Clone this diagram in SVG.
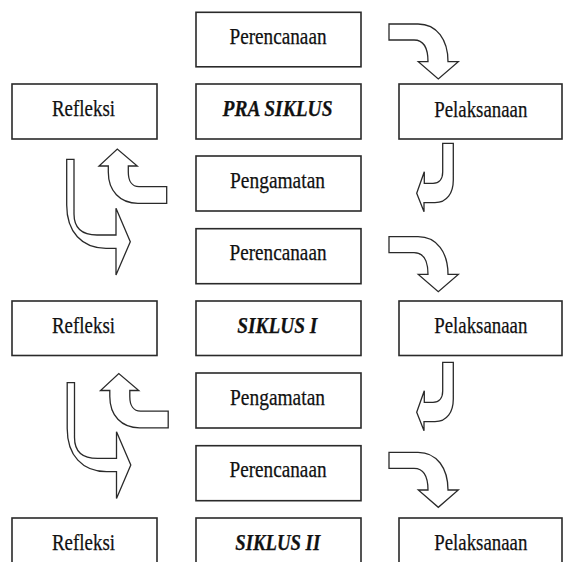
<svg xmlns="http://www.w3.org/2000/svg" width="563" height="562" viewBox="0 0 563 562">
<style>
.box{fill:#fff;stroke:#2a2a2a;stroke-width:1.6}
.lbl{font-family:"Liberation Serif","Times New Roman",serif;font-size:23px;fill:#111;text-anchor:middle;stroke:#111;stroke-width:0.25}
.cyc{font-weight:bold;font-style:italic}
.arr{fill:#fff;stroke:#2a2a2a;stroke-width:1.3;stroke-linejoin:miter}
</style>
<defs>
<path id="aDown" class="arr" d="M389,24 H418 C437,24 448,40 448,61.7 H458.3 L438.3,79 L418.3,61.7 H428 C428,48 424,40 414,40 H389 Z"/>
<path id="aJ" class="arr" d="M442.7,143.3 H453.3 V180 C453.3,193 447,202.7 435,202.7 H424 V211.7 L416.7,193.3 L424.3,171.7 V183.3 H433 C439,183.3 442.7,179 442.7,172 Z"/>
<path id="aUp" class="arr" d="M166.7,186.7 H139 C132,186.7 128.3,181 128.3,172 V166 H137.3 L117.3,149 L99,166 H108.3 V172 C108.3,191 120,203.3 138,203.3 H166.7 Z"/>
<path id="aRight" class="arr" d="M66.7,159.3 H74 V214 C74,228 82,235 97,235 H116 V208.3 L130.3,241.7 L116,275 V248.3 H106 C82,248.3 66.7,232 66.7,205 Z"/>
</defs>

<g id="connectors">
<use href="#aDown"/>
<use href="#aDown" transform="translate(0,212.7)"/>
<use href="#aDown" transform="translate(0,428.3)"/>
<use href="#aJ"/>
<use href="#aJ" transform="translate(0,219)"/>
<use href="#aUp"/>
<use href="#aUp" transform="translate(1.5,224.5)"/>
<use href="#aRight"/>
<use href="#aRight" transform="translate(0.5,223.4)"/>
</g>

<g id="perencanaan1"><rect class="box" x="196" y="12.3" width="165" height="54.5"/><text class="lbl" x="278" y="43.5" textLength="97" lengthAdjust="spacingAndGlyphs">Perencanaan</text></g>
<g id="pra-siklus"><rect class="box" x="196" y="84" width="165" height="55"/><text class="lbl cyc" x="277.5" y="116" textLength="110" lengthAdjust="spacingAndGlyphs">PRA SIKLUS</text></g>
<g id="refleksi1"><rect class="box" x="12" y="84" width="145" height="55"/><text class="lbl" x="83.5" y="115.5" textLength="63" lengthAdjust="spacingAndGlyphs">Refleksi</text></g>
<g id="pelaksanaan1"><rect class="box" x="399" y="84" width="163" height="55"/><text class="lbl" x="480.8" y="116.5" textLength="93" lengthAdjust="spacingAndGlyphs">Pelaksanaan</text></g>
<g id="pengamatan1"><rect class="box" x="196" y="156" width="165" height="55"/><text class="lbl" x="277.5" y="187.5" textLength="95" lengthAdjust="spacingAndGlyphs">Pengamatan</text></g>

<g id="perencanaan2"><rect class="box" x="196" y="228.7" width="165" height="55"/><text class="lbl" x="278" y="260" textLength="97" lengthAdjust="spacingAndGlyphs">Perencanaan</text></g>
<g id="siklus1"><rect class="box" x="196" y="301" width="165" height="54.5"/><text class="lbl cyc" x="277.3" y="332.7" textLength="80" lengthAdjust="spacingAndGlyphs">SIKLUS I</text></g>
<g id="refleksi2"><rect class="box" x="12" y="301" width="145" height="54.5"/><text class="lbl" x="83.5" y="332.5" textLength="63" lengthAdjust="spacingAndGlyphs">Refleksi</text></g>
<g id="pelaksanaan2"><rect class="box" x="399" y="301" width="163" height="54.5"/><text class="lbl" x="480.8" y="332.7" textLength="93" lengthAdjust="spacingAndGlyphs">Pelaksanaan</text></g>
<g id="pengamatan2"><rect class="box" x="196" y="373" width="165" height="55"/><text class="lbl" x="277.5" y="405" textLength="95" lengthAdjust="spacingAndGlyphs">Pengamatan</text></g>

<g id="perencanaan3"><rect class="box" x="196" y="445.7" width="165" height="55"/><text class="lbl" x="278" y="477" textLength="97" lengthAdjust="spacingAndGlyphs">Perencanaan</text></g>
<g id="siklus2"><rect class="box" x="196" y="518" width="165" height="55"/><text class="lbl cyc" x="277.7" y="549.5" textLength="85" lengthAdjust="spacingAndGlyphs">SIKLUS II</text></g>
<g id="refleksi3"><rect class="box" x="12" y="518" width="145" height="55"/><text class="lbl" x="83.5" y="549.5" textLength="63" lengthAdjust="spacingAndGlyphs">Refleksi</text></g>
<g id="pelaksanaan3"><rect class="box" x="399" y="518" width="163" height="55"/><text class="lbl" x="480.8" y="549.5" textLength="93" lengthAdjust="spacingAndGlyphs">Pelaksanaan</text></g>
</svg>
